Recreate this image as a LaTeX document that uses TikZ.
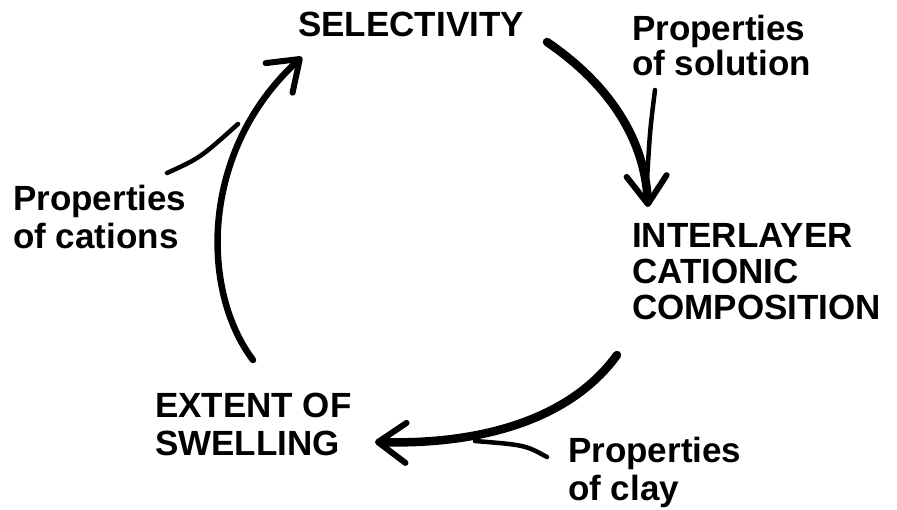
\documentclass[tikz,border=0pt]{standalone}
\usepackage{fontspec}
\setmainfont{Liberation Sans}
\usetikzlibrary{arrows.meta}
\begin{document}
\begin{tikzpicture}[x=1pt,y=-1pt,
  lbl/.style={anchor=north west,inner sep=0pt,align=left,font=\bfseries\fontsize{35}{#1}\selectfont},
  lbl/.default=38,
  mainarrow/.style={line width=#1,line cap=round,
     -{Straight Barb[length=28pt,width=40pt,line width=6pt,round]}},
  mainarrow/.default=8.5pt,
  feeder/.style={line width=4.5pt,line cap=round}]
\useasboundingbox (0,0) rectangle (897,509);
% labels
\node[lbl] (sel) at (298,12) {SELECTIVITY};
\node[lbl=35] (sol) at (632,15) {Properties\\of solution};
\node[lbl=36] (inter) at (632,223) {INTERLAYER\\CATIONIC\\COMPOSITION};
\node[lbl] (clay) at (568,437) {Properties\\of clay};
\node[lbl] (swell) at (155,393) {EXTENT OF\\SWELLING};
\node[lbl] (cat) at (13,185) {Properties\\of cations};
% connector ends
\coordinate (r0) at (547,42);
\coordinate (r1) at (648,207);
\coordinate (b0) at (617,355);
\coordinate (b1) at (375,442);
\coordinate (l0) at (253,360);
\coordinate (l1) at (302,57);
\coordinate (fs) at (655,90);
\coordinate (fsm) at (647,180);
\coordinate (fc) at (547,457);
\coordinate (fcm) at (475,441);
\coordinate (fk) at (167,173);
\coordinate (fkm) at (238,124);
% main cycle arrows
\draw[mainarrow] (r0) .. controls (610,85) and (645,140) .. (r1);
\draw[mainarrow] (b0) .. controls (570,420) and (480,445) .. (b1);
\draw[mainarrow=6.5pt] (l0) .. controls (200,290) and (200,150) .. (l1);
% feeders
\draw[feeder] (fs) .. controls (650,130) .. (fsm);
\draw[feeder] (fc) .. controls (525,445) .. (fcm);
\draw[feeder] (fk) .. controls (200,158) .. (fkm);
\end{tikzpicture}
\end{document}
